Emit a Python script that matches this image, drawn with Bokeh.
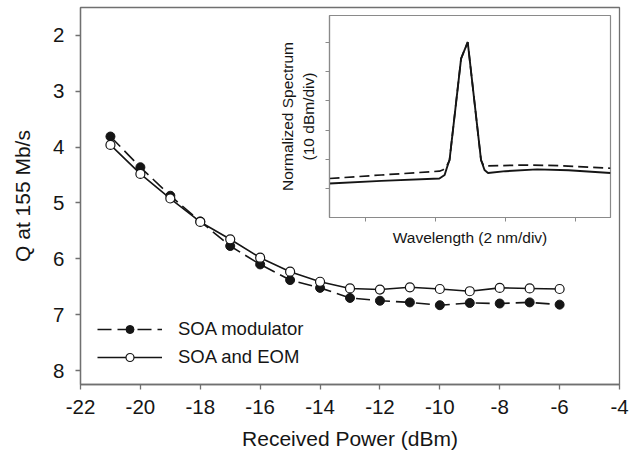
from bokeh.plotting import figure
from bokeh.models import Range1d, FixedTicker, Legend, LegendItem
from bokeh.layouts import column
from bokeh.embed import file_html
from bokeh.resources import INLINE

# ---- main chart data ----
power_dbm = [-21, -20, -19, -18, -17, -16, -15, -14, -13, -12, -11, -10, -9, -8, -7, -6]
q_soa_modulator = [3.81, 4.36, 4.87, 5.33, 5.77, 6.10, 6.38, 6.52, 6.70, 6.75, 6.78, 6.83, 6.79, 6.80, 6.78, 6.82]
q_soa_eom = [3.96, 4.48, 4.92, 5.34, 5.65, 5.98, 6.23, 6.41, 6.53, 6.55, 6.51, 6.54, 6.58, 6.52, 6.53, 6.54]
x_ticks = [-22, -20, -18, -16, -14, -12, -10, -8, -6, -4]
x_tick_labels = ["-22", "-20", "-18", "-16", "-14", "-12", "-10", "-8", "-6", "-4"]
y_ticks = [2, 3, 4, 5, 6, 7, 8]
y_tick_labels = ["2", "3", "4", "5", "6", "7", "8"]

# ---- inset spectrum data (wavelength in nm, level in dB) ----
wl_solid = [0.97, 2.45, 4.11, 4.26, 4.32, 4.40, 4.56, 4.73, 4.92, 5.30, 5.40, 5.50, 6.00, 6.90, 7.80, 9.00]
spec_solid = [-48.2, -47.3, -46.5, -45.3, -43.0, -40.2, -23.5, -5.6, 0.0, -40.2, -43.6, -44.6, -44.0, -43.4, -43.7, -44.6]
wl_dash = [0.97, 2.45, 4.11, 4.22, 4.32, 4.40, 4.73, 4.92, 5.30, 5.37, 5.50, 6.58, 7.52, 9.00]
spec_dash = [-46.5, -45.3, -44.0, -43.5, -42.3, -40.2, -5.6, 0.0, -40.2, -42.0, -42.2, -41.9, -42.1, -43.0]
inset_x_ticks = [2, 4, 6, 8]
inset_y_ticks = [-50, -40, -30, -20, -10, 0]

FONT = "Liberation Sans"
FRAME = "#707070"
INK = "#151515"

p = figure(width=638, height=453, output_backend="svg", toolbar_location=None,
           x_range=Range1d(-22, -4), y_range=Range1d(8.25, 1.5),
           min_border_left=80, min_border_right=19, min_border_top=7, min_border_bottom=69)
p.outline_line_color = FRAME
p.outline_line_width = 1.3
p.grid.visible = False
p.background_fill_color = "white"

for ax in (p.xaxis[0], p.yaxis[0]):
    ax.axis_line_color = FRAME
    ax.axis_line_width = 1.3
    ax.major_tick_line_color = FRAME
    ax.major_tick_line_width = 1.3
    ax.major_tick_out = 5
    ax.major_tick_in = 0
    ax.minor_tick_line_color = None
    ax.major_label_text_font = FONT
    ax.major_label_text_font_size = "20.5px"
    ax.major_label_text_color = INK
    ax.axis_label_text_font = FONT
    ax.axis_label_text_font_size = "21px"
    ax.axis_label_text_font_style = "normal"
    ax.axis_label_text_color = INK

p.xaxis.ticker = FixedTicker(ticks=x_ticks)
p.yaxis.ticker = FixedTicker(ticks=y_ticks)
p.xaxis.major_label_overrides = dict(zip(x_ticks, x_tick_labels))
p.yaxis.major_label_overrides = dict(zip(y_ticks, y_tick_labels))
p.xaxis.axis_label = "Received Power (dBm)"
p.yaxis.axis_label = "Q at 155 Mb/s"
p.xaxis.major_label_standoff = 10
p.yaxis.major_label_standoff = 11
p.xaxis.axis_label_standoff = 10
p.yaxis.axis_label_standoff = 16

l1 = p.line(power_dbm, q_soa_modulator, line_color=INK, line_width=1.6, line_dash="14 6")
m1 = p.scatter(power_dbm, q_soa_modulator, size=9, marker="circle", fill_color=INK, line_color=INK, line_width=1)
l2 = p.line(power_dbm, q_soa_eom, line_color=INK, line_width=1.6)
m2 = p.scatter(power_dbm, q_soa_eom, size=9, marker="circle", fill_color="white", line_color=INK, line_width=1.2)

legend = Legend(items=[LegendItem(label="SOA modulator", renderers=[l1, m1]),
                       LegendItem(label="SOA and EOM", renderers=[l2, m2])],
                location=(17, 16), orientation="vertical")
legend.glyph_width = 65
legend.glyph_height = 20
legend.label_height = 20
legend.spacing = 6
legend.padding = 0
legend.margin = 0
legend.label_standoff = 16
legend.border_line_color = None
legend.background_fill_alpha = 0
legend.label_text_font = FONT
legend.label_text_font_size = "18.5px"
legend.label_text_color = INK
p.add_layout(legend, "center")

# ---- inset (column aligns frame borders with the main plot: left 80, right 19) ----
q = figure(width=380, height=249, output_backend="svg", toolbar_location=None,
           x_range=Range1d(0.97, 9.0), y_range=Range1d(-59.8, 9.1),
           min_border_left=80, min_border_right=19, min_border_top=6, min_border_bottom=41)
q.outline_line_color = "#8a8a8a"
q.outline_line_width = 1.2
q.grid.visible = False
q.background_fill_alpha = 0
q.border_fill_alpha = 0
for ax in (q.xaxis[0], q.yaxis[0]):
    ax.axis_line_color = "#8a8a8a"
    ax.axis_line_width = 1.2
    ax.major_tick_line_color = "#8a8a8a"
    ax.major_tick_out = 4
    ax.major_tick_in = 0
    ax.minor_tick_line_color = None
    ax.major_label_text_font_size = "1px"
    ax.major_label_text_color = None
    ax.major_label_standoff = 0
    ax.axis_label_text_font = FONT
    ax.axis_label_text_font_size = "15.5px"
    ax.axis_label_text_font_style = "normal"
    ax.axis_label_text_color = INK
q.xaxis.ticker = FixedTicker(ticks=inset_x_ticks)
q.yaxis.ticker = FixedTicker(ticks=inset_y_ticks)
q.xaxis.axis_label = "Wavelength (2 nm/div)"
q.yaxis.axis_label = "Normalized Spectrum\n(10 dBm/div)"
q.xaxis.axis_label_standoff = 7
q.yaxis.axis_label_standoff = 9

q.line(wl_dash, spec_dash, line_color=INK, line_width=1.7, line_dash="10 5")
q.line(wl_solid, spec_solid, line_color=INK, line_width=1.9)

q.margin = (-444, 0, 0, 249)

layout = column(p, q)
open("out.html", "w").write(file_html(layout, INLINE))
